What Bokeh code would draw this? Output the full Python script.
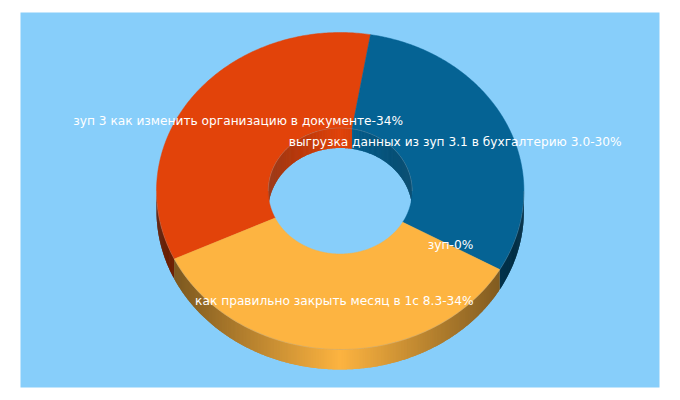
import numpy as np
from bokeh.plotting import figure
from bokeh.models import ColumnDataSource
from bokeh.core.properties import value
from bokeh.embed import file_html
from bokeh.resources import INLINE

categories = ["зуп 3 как изменить организацию в документе", "выгрузка данных из зуп 3.1 в бухгалтерию 3.0", "зуп", "как правильно закрыть месяц в 1с 8.3"]
percents = [34, 30, 0, 34]
colors = ["#E2430A", "#056394", "#0B3C5D", "#FDB441"]
label_nudge = [(0, -3), (-0.5, -1), (-0.7, -1), (-1, -1)]

BG = "#87CEFA"
CX, CY, RX, RY, IRX, IRY, DEPTH = 339.7, 190.5, 183.7, 158.5, 72.0, 63.0, 20.0
START = 244.6


def rgb(hex_color):
    return np.array([int(hex_color[i:i + 2], 16) for i in (1, 3, 5)], float)


def shade(hex_color, f):
    c = np.clip(rgb(hex_color) * f, 0, 255).astype(int)
    return "#%02x%02x%02x" % tuple(c)


def pt(t, rx, ry, dy=0.0):
    r = np.radians(t)
    return CX + rx * np.sin(r), CY - ry * np.cos(r) + dy


p = figure(width=670, height=392, x_range=(0, 670), y_range=(392, 0), output_backend="svg",
           toolbar_location=None, min_border=0, outline_line_color=None,
           background_fill_color="white", border_fill_color="white")
p.axis.visible = False
p.grid.visible = False

p.quad(left=[20], right=[659], top=[12], bottom=[387], fill_color=BG, line_color=None)

total = sum(percents)
spans = []
a = START
for v in percents:
    b = a + 360.0 * v / total
    spans.append((a, b))
    a = b


def wall_strips(t0, t1, rx, ry, base, fn):
    """Overlapping strips drawn in order, so that no seams show between them."""
    xs, ys, cs = [], [], []
    if t1 <= t0:
        return xs, ys, cs
    ts = np.linspace(t0, t1, max(2, int((t1 - t0) / 0.5) + 2))
    for i in range(len(ts) - 1):
        seg = np.linspace(ts[i], t1 if i >= len(ts) - 3 else ts[i + 2], 3)
        sx, sy = pt(seg, rx, ry)
        xs.append(np.concatenate([sx, sx[::-1]]))
        ys.append(np.concatenate([sy, sy[::-1] + DEPTH]))
        mx = pt((ts[i] + ts[i + 1]) / 2, rx, ry)[0]
        cs.append(shade(base, fn(abs(mx - CX) / rx)))
    return xs, ys, cs


# inner wall (visible back part of the hole), then outer wall (visible front part)
inner = lambda d: 1.0 - 0.30 * d
outer = lambda d: 1.0 - 0.56 * d
X, Y, C = [], [], []
for (a, b), col in zip(spans, colors):
    for k in (0, 360, -360):
        lo, hi = max(a + k, 270), min(b + k, 450)
        r = wall_strips(lo, hi, IRX, IRY, col, inner)
        X += r[0]; Y += r[1]; C += r[2]
        lo, hi = max(a + k, 90), min(b + k, 270)
        r = wall_strips(lo, hi, RX, RY, col, outer)
        X += r[0]; Y += r[1]; C += r[2]
p.patches(xs=X, ys=Y, fill_color=C, line_color=None)

# top ring
X, Y, C = [], [], []
for (a, b), col, v in zip(spans, colors, percents):
    if v <= 0:
        continue
    ts = np.linspace(a, b, 200)
    ox, oy = pt(ts, RX, RY)
    ix, iy = pt(ts[::-1], IRX, IRY)
    X.append(np.concatenate([ox, ix]))
    Y.append(np.concatenate([oy, iy]))
    C.append(col)
p.patches(xs=X, ys=Y, fill_color=C, line_color=C, line_width=0.5)

# rim highlights: back of the hole, front of the outer edge
for t0, t1, rx, ry, alpha in ((270, 450, IRX, IRY, 0.3), (90, 270, RX, RY, 0.25)):
    rx_pts, ry_pts = pt(np.linspace(t0, t1, 180), rx, ry)
    p.line(rx_pts, ry_pts, line_color="#9a9a9a", line_alpha=alpha, line_width=1)

# labels
lx, ly, lt = [], [], []
for (a, b), cat, v, (nx, ny) in zip(spans, categories, percents, label_nudge):
    x, y = pt((a + b) / 2, (RX + IRX) / 2, (RY + IRY) / 2)
    lx.append(x + nx)
    ly.append(y + ny)
    lt.append(f"{cat}-{v}%")
p.text(x="x", y="y", text="t", source=ColumnDataSource(dict(x=lx, y=ly, t=lt)),
       text_color="white", text_font=value("DejaVu Sans"), text_font_size="12.2px",
       text_align="center", text_baseline="middle")

open("out.html", "w").write(file_html(p, INLINE))
